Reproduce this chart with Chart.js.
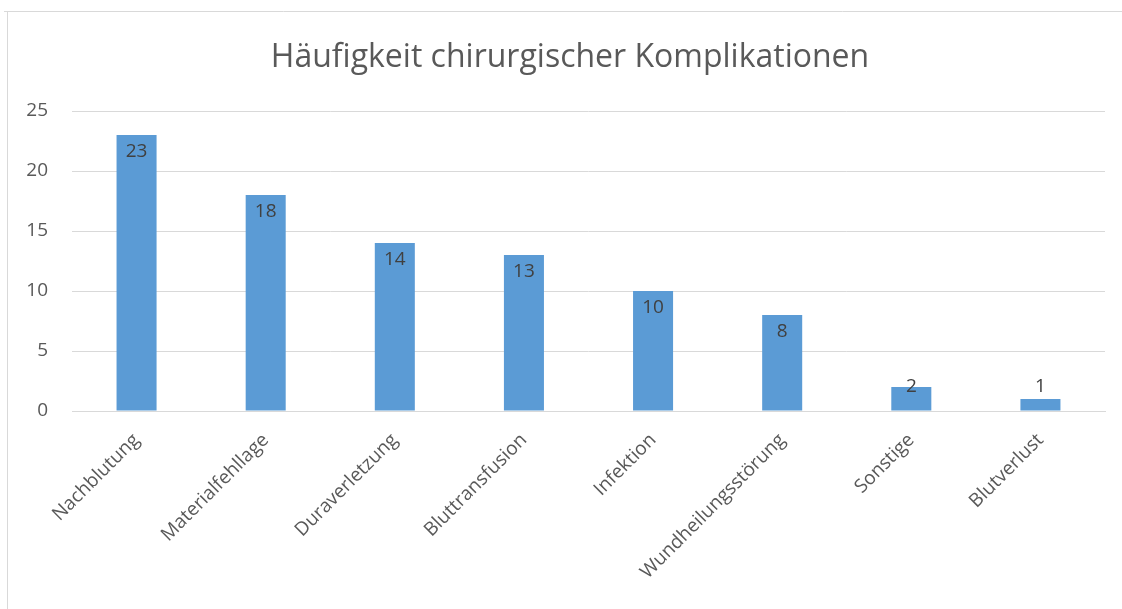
<!DOCTYPE html>
<html><head><meta charset="utf-8">
<script src="https://cdn.jsdelivr.net/npm/chart.js@4/dist/chart.umd.min.js"></script>
<style>html,body{margin:0;padding:0;background:#fff;}#wrap{position:relative;width:1122px;height:609px;}</style>
</head><body><div id="wrap"><canvas id="c" width="1122" height="609"></canvas></div>
<script>
const categories = ["Nachblutung","Materialfehllage","Duraverletzung","Bluttransfusion","Infektion","Wundheilungsstörung","Sonstige","Blutverlust"];
const counts = [23,18,14,13,10,8,2,1];
const yTicks = [0,5,10,15,20,25];
const titleText = "Häufigkeit chirurgischer Komplikationen";
const FONT = "'Open Sans', Lato, sans-serif";

const framePlugin = {
  id:'frame',
  beforeDraw(chart){
    const ctx = chart.ctx;
    ctx.save();
    ctx.fillStyle='#fff'; ctx.fillRect(0,0,chart.width,chart.height);
    ctx.strokeStyle='#d9d9d9'; ctx.lineWidth=1;
    ctx.beginPath(); ctx.moveTo(4,11.5); ctx.lineTo(chart.width,11.5);
    ctx.moveTo(7.5,11); ctx.lineTo(7.5,chart.height); ctx.stroke();
    ctx.font = "32px " + FONT;
    ctx.fillStyle = '#595959';
    ctx.textAlign = 'center'; ctx.textBaseline = 'alphabetic';
    ctx.fillText(titleText, 570, 67);
    ctx.restore();
  }
};
const labelPlugin = {
  id:'vals',
  afterDatasetsDraw(chart){
    const ctx = chart.ctx;
    const meta = chart.getDatasetMeta(0);
    const zeroY = chart.scales.y.getPixelForValue(0);
    ctx.save();
    ctx.font = "19px " + FONT;
    ctx.fillStyle = '#404040';
    ctx.textAlign='center'; ctx.textBaseline='alphabetic';
    meta.data.forEach((bar,i)=>{
      const base = Math.min(bar.y + 22, zeroY - 19);
      ctx.fillText(String(chart.data.datasets[0].data[i]), bar.x, base);
    });
    ctx.restore();
  }
};
new Chart(document.getElementById('c'), {
  type:'bar',
  data:{labels:categories, datasets:[{data:counts, backgroundColor:'#5B9BD5', barPercentage:0.62, categoryPercentage:0.5}]},
  options:{
    responsive:false, animation:false,
    layout:{padding:{left:0,right:17,top:111,bottom:0}},
    plugins:{ legend:{display:false}, tooltip:{enabled:false}, title:{display:false} },
    scales:{
      x:{
        grid:{display:false}, border:{display:true,color:'#d9d9d9'},
        ticks:{color:'#595959', font:{family:FONT,size:19}, minRotation:45, maxRotation:45, padding:10},
        afterFit(s){ s.height = 198; }
      },
      y:{
        min:0, max:25,
        afterBuildTicks(s){ s.ticks = yTicks.map(v=>({value:v})); },
        grid:{color:'#d9d9d9', drawTicks:false}, border:{display:false},
        ticks:{color:'#595959', font:{family:FONT,size:19}, padding:24},
        afterFit(s){ s.width = 72; }
      }
    }
  },
  plugins:[framePlugin,labelPlugin]
});
</script></body></html>
